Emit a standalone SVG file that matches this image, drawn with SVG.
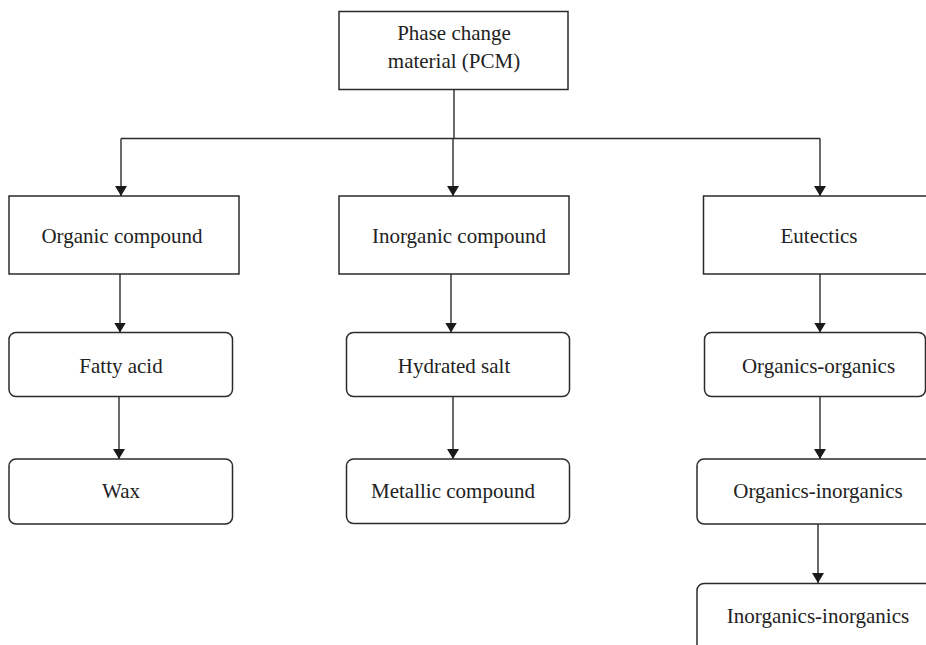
<svg xmlns="http://www.w3.org/2000/svg" width="926" height="645" viewBox="0 0 926 645">
  <defs>
    <style>
      .box { fill: #fff; stroke: #2b2b2b; stroke-width: 1.5; }
      .lbl { font-family: "Liberation Serif", "Times New Roman", serif; font-size: 21px; fill: #222; text-anchor: middle; }
      .con { fill: none; stroke: #2b2b2b; stroke-width: 1.4; }
      .arr { fill: none; stroke: #2b2b2b; stroke-width: 1.4; marker-end: url(#ah); }
    </style>
    <marker id="ah" viewBox="0 0 10 12" refX="10" refY="6" markerWidth="10" markerHeight="12" markerUnits="userSpaceOnUse" orient="auto">
      <path d="M0,0 L10,6 L0,12 z" fill="#1a1a1a"/>
    </marker>
  </defs>
  <rect width="926" height="645" fill="#fff"/>

  <g id="connectors">
    <line class="con" x1="454" y1="89.5" x2="454" y2="138.5"/>
    <line class="con" x1="121" y1="138.5" x2="820" y2="138.5"/>
    <line class="arr" x1="121" y1="138.5" x2="121" y2="196"/>
    <line class="arr" x1="453" y1="138.5" x2="453" y2="196"/>
    <line class="arr" x1="820" y1="138.5" x2="820" y2="196"/>
    <line class="arr" x1="120" y1="274" x2="120" y2="332.5"/>
    <line class="arr" x1="119" y1="396.5" x2="119" y2="459"/>
    <line class="arr" x1="451" y1="274" x2="451" y2="332.5"/>
    <line class="arr" x1="453" y1="396.5" x2="453" y2="459"/>
    <line class="arr" x1="820" y1="274" x2="820" y2="332.5"/>
    <line class="arr" x1="820" y1="396.5" x2="820" y2="459"/>
    <line class="arr" x1="818" y1="524" x2="818" y2="583"/>
  </g>

  <g id="pcm">
    <rect class="box" x="339" y="11.5" width="229" height="78"/>
    <text class="lbl" x="454" y="40">Phase change</text>
    <text class="lbl" x="454" y="68">material (PCM)</text>
  </g>

  <g id="organic">
    <rect class="box" x="9" y="196" width="230" height="78"/>
    <text class="lbl" x="122" y="243">Organic compound</text>
  </g>
  <g id="inorganic">
    <rect class="box" x="339" y="196" width="230" height="78"/>
    <text class="lbl" x="459" y="243">Inorganic compound</text>
  </g>
  <g id="eutectics">
    <rect class="box" x="703.5" y="196" width="233" height="78"/>
    <text class="lbl" x="819" y="243">Eutectics</text>
  </g>

  <g id="fatty-acid">
    <rect class="box" x="9" y="332.5" width="223.5" height="64" rx="7"/>
    <text class="lbl" x="121" y="373">Fatty acid</text>
  </g>
  <g id="wax">
    <rect class="box" x="9" y="459" width="223.5" height="65" rx="7"/>
    <text class="lbl" x="121" y="498">Wax</text>
  </g>

  <g id="hydrated-salt">
    <rect class="box" x="346.5" y="332.5" width="223" height="64" rx="7"/>
    <text class="lbl" x="454" y="373">Hydrated salt</text>
  </g>
  <g id="metallic-compound">
    <rect class="box" x="346.5" y="459" width="223" height="64.5" rx="7"/>
    <text class="lbl" x="453" y="498">Metallic compound</text>
  </g>

  <g id="organics-organics">
    <rect class="box" x="704.5" y="332.5" width="221" height="64" rx="7"/>
    <text class="lbl" x="818.5" y="373">Organics-organics</text>
  </g>
  <g id="organics-inorganics">
    <rect class="box" x="697" y="459" width="242" height="65" rx="7"/>
    <text class="lbl" x="818" y="498">Organics-inorganics</text>
  </g>
  <g id="inorganics-inorganics">
    <rect class="box" x="697" y="583.5" width="242" height="80" rx="7"/>
    <text class="lbl" x="818" y="623">Inorganics-inorganics</text>
  </g>
</svg>
